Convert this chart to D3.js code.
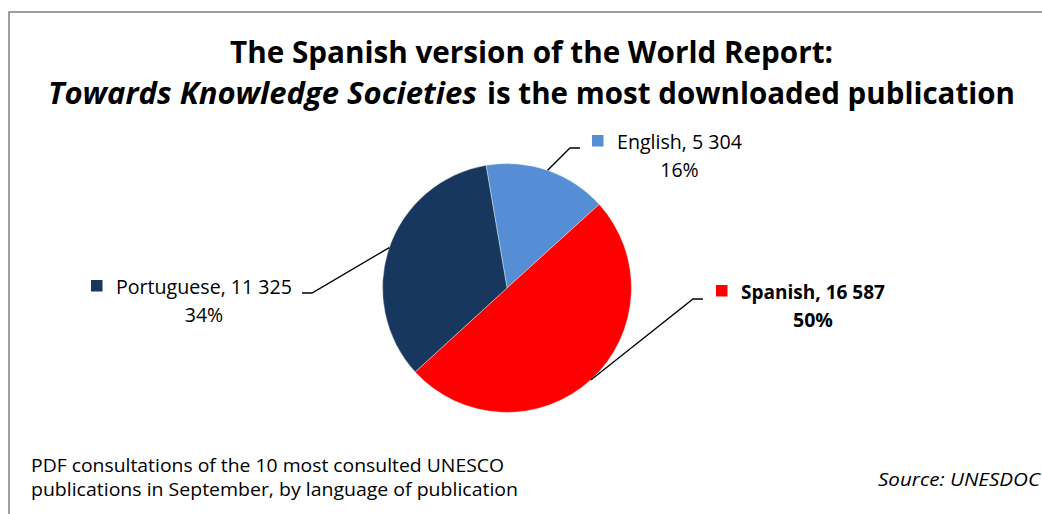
<!DOCTYPE html>
<html>
<head>
<meta charset="utf-8">
<script src="https://cdn.jsdelivr.net/npm/d3@7"></script>
<style>
  html, body { margin: 0; padding: 0; background: #fff; }
  svg { display: block; font-family: "Open Sans", "DejaVu Sans", sans-serif; }
</style>
</head>
<body>
<svg id="chart" width="1042" height="514"></svg>
<script>
// chart data
const languages = ["English", "Spanish", "Portuguese"];
const downloads = [5304, 16587, 11325];
const sliceColors = ["#558ED5", "#FF0000", "#17375E"];
const boldLabel = [false, true, false];

const titleLine1 = "The Spanish version of the World Report:";
const titleItalic = "Towards Knowledge Societies";
const titleRest = "is the most downloaded publication";
const noteLines = [
    "PDF consultations of the 10 most consulted UNESCO",
    "publications in September, by language of publication"
];
const sourceText = "Source: UNESDOC";

// label layout: text start x, baseline y, text width, leader elbow and end
const labelLayout = {
    "English":    { x: 617, y: 149, w: 125, elbow: [570, 148], end: [580, 148] },
    "Spanish":    { x: 741, y: 299, w: 144, elbow: [693, 299], end: [703, 299] },
    "Portuguese": { x: 116, y: 294, w: 176, elbow: [312, 293], end: [302, 293] }
};

const svg = d3.select("#chart");
const fmt = d3.formatLocale({ decimal: ".", thousands: " ", grouping: [3] }).format(",");
const total = d3.sum(downloads);

const data = languages.map((name, i) => ({
    name: name,
    value: downloads[i],
    color: sliceColors[i],
    bold: boldLabel[i],
    pct: Math.round(downloads[i] / total * 100) + "%"
}));

// frame
svg.append("path")
    .attr("d", "M9,520 L9,12 L1050,12")
    .attr("fill", "none")
    .attr("stroke", "#808080")
    .attr("stroke-width", 1.5);

// title
svg.append("text")
    .attr("x", 230).attr("y", 63)
    .attr("font-size", 30).attr("font-weight", "bold")
    .attr("textLength", 603).attr("lengthAdjust", "spacingAndGlyphs")
    .text(titleLine1);
svg.append("text")
    .attr("x", 48).attr("y", 104)
    .attr("font-size", 30).attr("font-weight", "bold").attr("font-style", "italic")
    .attr("textLength", 429).attr("lengthAdjust", "spacingAndGlyphs")
    .text(titleItalic);
svg.append("text")
    .attr("x", 487).attr("y", 104)
    .attr("font-size", 30).attr("font-weight", "bold")
    .attr("textLength", 528).attr("lengthAdjust", "spacingAndGlyphs")
    .text(titleRest);

// pie
const cx = 507, cy = 288, radius = 124.5;
const pie = d3.pie()
    .sort(null)
    .value(d => d.value)
    .startAngle(-9.7 * Math.PI / 180)
    .endAngle(-9.7 * Math.PI / 180 + 2 * Math.PI);
const arc = d3.arc().innerRadius(0).outerRadius(radius);
const edgeArc = d3.arc().innerRadius(radius).outerRadius(radius);

const g = svg.append("g").attr("transform", `translate(${cx},${cy})`);
const arcs = pie(data);

g.selectAll("path.slice")
    .data(arcs)
    .enter()
    .append("path")
    .attr("class", "slice")
    .attr("d", arc)
    .attr("fill", d => d.data.color)
    .attr("stroke", "#fff")
    .attr("stroke-width", 0.4);

// leader lines
svg.selectAll("polyline.leader")
    .data(arcs)
    .enter()
    .append("polyline")
    .attr("class", "leader")
    .attr("points", d => {
        const c = edgeArc.centroid(d);
        const L = labelLayout[d.data.name];
        return [[cx + c[0], cy + c[1]], L.elbow, L.end].map(p => p.join(",")).join(" ");
    })
    .attr("fill", "none")
    .attr("stroke", "#000")
    .attr("stroke-width", 1.3);

// labels
const labels = svg.selectAll("g.label")
    .data(data)
    .enter()
    .append("g")
    .attr("class", "label");

labels.append("rect")
    .attr("x", d => labelLayout[d.name].x - 25)
    .attr("y", d => labelLayout[d.name].y - 14)
    .attr("width", 11.5)
    .attr("height", 11.5)
    .attr("fill", d => d.color);

labels.append("text")
    .attr("x", d => labelLayout[d.name].x)
    .attr("y", d => labelLayout[d.name].y)
    .attr("font-size", 19.5)
    .attr("font-weight", d => d.bold ? "bold" : "normal")
    .attr("fill", "#000")
    .attr("textLength", d => labelLayout[d.name].w)
    .attr("lengthAdjust", "spacingAndGlyphs")
    .text(d => `${d.name}, ${fmt(d.value)}`);

labels.append("text")
    .attr("x", d => labelLayout[d.name].x + labelLayout[d.name].w / 2)
    .attr("y", d => labelLayout[d.name].y + 28)
    .attr("text-anchor", "middle")
    .attr("font-size", 19.5)
    .attr("font-weight", d => d.bold ? "bold" : "normal")
    .attr("fill", "#000")
    .text(d => d.pct);

// note and source
const noteWidths = [473, 487];
svg.selectAll("text.note")
    .data(noteLines)
    .enter()
    .append("text")
    .attr("class", "note")
    .attr("x", 31)
    .attr("y", (d, i) => 472 + i * 24)
    .attr("font-size", 18.5)
    .attr("textLength", (d, i) => noteWidths[i])
    .attr("lengthAdjust", "spacingAndGlyphs")
    .text(d => d);

svg.append("text")
    .attr("x", 878).attr("y", 486)
    .attr("font-size", 19).attr("font-style", "italic")
    .attr("textLength", 162).attr("lengthAdjust", "spacingAndGlyphs")
    .text(sourceText);
</script>
</body>
</html>
